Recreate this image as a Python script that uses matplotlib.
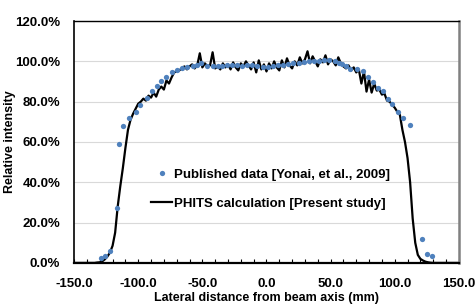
import matplotlib
matplotlib.use("Agg")
import matplotlib.pyplot as plt
import numpy as np

plt.rcParams['font.family'] = ['Liberation Sans', 'DejaVu Sans']
plt.rcParams['font.weight'] = 'bold'
plt.rcParams['axes.labelweight'] = 'bold'

# Published data [Yonai, et al., 2009]  (mm, %)
pub_x = [-129.2, -126.1, -122.0, -116.5, -114.9, -111.6, -107.4, -102.0, -98.6,
         -92.9, -89.0, -85.6, -82.0, -78.3, -73.4, -69.5, -65.6, -61.7, -57.5,
         -54.0, -51.0, -46.1, -42.0, -38.0, -35.0, -31.0, -27.0, -23.0, -19.0,
         -15.0, -11.0, -7.0, -3.0, 1.0, 5.0, 9.0, 13.0, 17.0, 21.0, 25.0, 29.0,
         33.0, 37.0, 41.0, 45.0, 49.0, 53.4, 56.8, 59.1, 62.0, 65.1, 70.3, 75.4,
         79.4, 82.8, 87.2, 91.1, 94.4, 97.6, 102.7, 106.6, 111.8, 121.0, 125.3,
         128.7]
pub_y = [2.6, 3.5, 6.1, 27.1, 59.0, 67.8, 71.7, 75.0, 78.5,
         82.0, 85.4, 87.9, 90.2, 92.4, 94.6, 95.7, 96.7, 97.4, 97.9,
         98.3, 99.0, 97.9, 97.8, 97.6, 97.9, 98.0, 98.2, 98.0, 97.9,
         98.1, 98.0, 97.6, 97.2, 97.4, 97.8, 98.0, 98.4, 98.8, 99.0, 99.3, 99.6,
         100.0, 100.2, 100.4, 100.6, 100.6, 100.3, 99.0, 98.7, 97.5, 96.2, 96.0, 95.3,
         92.4, 89.9, 86.9, 85.3, 81.5, 78.6, 75.0, 71.7, 68.4, 11.9, 4.5,
         3.3]

# PHITS calculation [Present study], sampled every 2 mm from -150 to 150
phits_x = np.arange(-150, 151, 2)
phits_y = [0, 0, 0, 0, 0, 0, 0, 0, 0, 0.2,
           0.3, 0.8, 1.8, 3.2, 5.2, 8.5, 15, 28, 38, 47,
           57, 66, 71, 74, 76.5, 79, 80, 81.5, 80.5, 83,
           82, 84.5, 82.5, 86, 87.5, 86, 90.5, 89, 92, 94.5,
           95, 95.5, 96.5, 97.5, 96, 97.5, 98.5, 96.5, 98, 104,
           97, 99, 97.5, 98, 104.5, 96.5, 97.5, 96, 99, 97,
           98.5, 96, 99.5, 97, 95.5, 99, 97.5, 100, 98, 96,
           99.5, 94.5, 100.5, 96, 98.5, 95, 99, 96.5, 100, 97,
           95.5, 100.5, 97, 101.5, 98, 96.5, 100, 98, 102, 99,
           101, 105, 99, 102.5, 100, 97.5, 101, 99.5, 103, 98.5,
           101, 100, 98, 102, 99, 97.5, 96.5, 98, 95.5, 97,
           94.5, 96, 89, 95, 85, 91, 84.5, 89, 85.5, 86,
           83.5, 84, 80.5, 80, 78.5, 77, 75, 73.5, 66, 60,
           52, 40, 22, 10, 4, 2, 1.2, 0.6, 0.3, 0.1,
           0, 0, 0, 0, 0, 0, 0, 0, 0, 0, 0]

yticks = [0, 20, 40, 60, 80, 100, 120]
xticks = [-150, -100, -50, 0, 50, 100, 150]

fig = plt.figure(figsize=(4.75, 3.05), dpi=100)
ax = fig.add_axes([0.156, 0.138, 0.81, 0.793])

ax.plot(pub_x, pub_y, 'o', color='#4F81BD', markersize=3.8, markeredgewidth=0,
        label='Published data [Yonai, et al., 2009]', zorder=3)
ax.plot(phits_x, phits_y, '-', color='black', linewidth=1.6,
        label='PHITS calculation [Present study]', zorder=2)

ax.set_xlim(-150, 150)
ax.set_ylim(0, 120)
ax.set_xticks(xticks)
ax.set_xticklabels([f"{t:.1f}" for t in xticks])
ax.set_xticks(np.arange(-150, 151, 10), minor=True)
ax.set_yticks(yticks)
ax.set_yticklabels([f"{t:.1f}%" for t in yticks])
ax.tick_params(axis='x', which='both', direction='in', length=3, width=0.8,
               labelsize=9.5, pad=11)
ax.tick_params(axis='y', length=0, labelsize=9.5, pad=10)
ax.grid(True, axis='y', color='#d9d9d9', linewidth=0.8)
ax.set_axisbelow(True)

ax.spines['bottom'].set_linewidth(1.6)
ax.spines['left'].set_linewidth(1.2)
ax.spines['top'].set_linewidth(1.0)
ax.spines['right'].set_color('#808080')
ax.spines['right'].set_linewidth(1.8)

ax.set_xlabel('Lateral distance from beam axis (mm)', fontsize=9)
ax.set_ylabel('Relative intensity', fontsize=9)
ax.xaxis.set_label_coords(0.5, -0.12)
ax.yaxis.set_label_coords(-0.15, 0.5)

ax.legend(loc='upper left', bbox_to_anchor=(0.17, 0.44), frameon=False,
          fontsize=9.5, handlelength=1.6, handletextpad=0.15, labelspacing=1.3,
          markerscale=1.0)

fig.savefig('out.png', dpi=100)
